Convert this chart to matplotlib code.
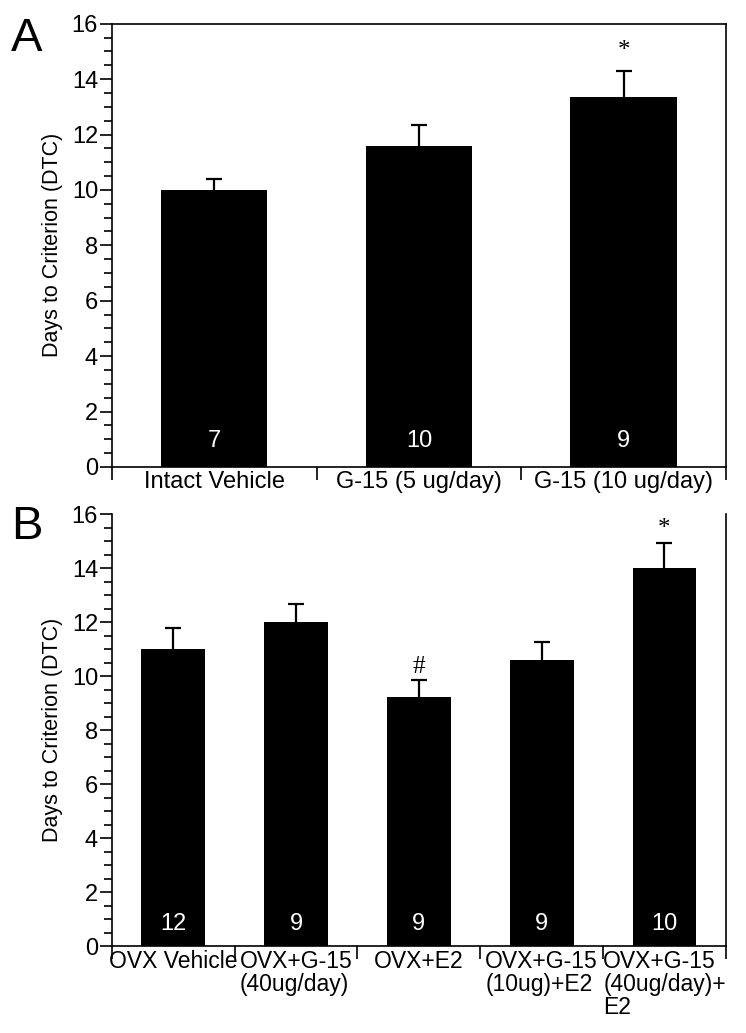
import numpy as np
import matplotlib.pyplot as plt
from matplotlib.ticker import MultipleLocator

# -----------------------------
# Data
# -----------------------------
cats_a = ["Intact Vehicle", "G-15 (5 ug/day)", "G-15 (10 ug/day)"]
mean_a = [10.0, 11.6, 13.35]
sem_a = [0.38, 0.76, 0.95]
n_a = ["7", "10", "9"]
mark_a = ["", "", "*"]

cats_b = ["OVX Vehicle", "OVX+G-15\n(40ug/day)", "OVX+E2",
          "OVX+G-15\n(10ug)+E2", "OVX+G-15\n(40ug/day)+\nE2"]
mean_b = [11.0, 12.0, 9.25, 10.6, 14.0]
sem_b = [0.78, 0.68, 0.6, 0.66, 0.96]
n_b = ["12", "9", "9", "9", "10"]
mark_b = ["", "", "#", "", "*"]

plt.rcParams["font.family"] = ["Liberation Sans", "DejaVu Sans"]
FS = 17

fig = plt.figure(figsize=(7.46, 10.33), dpi=100)
ax_a = fig.add_axes([0.150, 0.548, 0.823, 0.429])
ax_b = fig.add_axes([0.150, 0.084, 0.823, 0.418])


def draw_panel(ax, cats, mean, sem, ns, marks, top_spine, n_y, mark_gap,
               cat_fs):
    x = np.arange(len(cats))
    ax.bar(x, mean, width=0.52, color="black", zorder=2)
    eb = ax.errorbar(x, mean, yerr=[np.zeros(len(sem)), sem], fmt="none",
                     ecolor="black", elinewidth=1.6, capsize=6, capthick=1.6,
                     zorder=3)
    # only the upper cap is wanted
    for cap in eb[1]:
        if np.allclose(cap.get_ydata(), mean):
            cap.set_visible(False)
    for xi, n in zip(x, ns):
        ax.text(xi, n_y, n, color="white", ha="center", va="center",
                fontsize=FS, zorder=4)
    for xi, m, s, mk in zip(x, mean, sem, marks):
        if mk:
            ax.text(xi, m + s + mark_gap, mk, ha="center", va="center",
                    fontsize=18, family=["Liberation Serif"])

    ax.set_xlim(-0.5, len(cats) - 0.5)
    ax.set_ylim(0, 16)
    ax.yaxis.set_major_locator(MultipleLocator(2))
    ax.yaxis.set_minor_locator(MultipleLocator(0.5))
    ax.tick_params(axis="y", which="major", direction="out", length=9,
                   width=1.2, labelsize=FS, pad=1)
    ax.tick_params(axis="y", which="minor", direction="out", length=5.5,
                   width=1.2)
    ax.set_xticks(np.arange(len(cats) + 1) - 0.5)
    ax.set_xticklabels([])
    ax.tick_params(axis="x", which="major", direction="out", length=9,
                   width=1.2)
    ax.set_xticks(x, minor=True)
    ax.set_xticklabels(cats, minor=True, fontsize=cat_fs,
                       multialignment="left", linespacing=1.0)
    ax.tick_params(axis="x", which="minor", length=0, pad=3)
    ax.set_ylabel("Days to Criterion (DTC)", fontsize=15.5, labelpad=6)
    for side in ["left", "bottom", "right", "top"]:
        ax.spines[side].set_linewidth(1.2)
    ax.spines["top"].set_visible(top_spine)


draw_panel(ax_a, cats_a, mean_a, sem_a, n_a, mark_a, True, 0.95, 0.7, FS)
draw_panel(ax_b, cats_b, mean_b, sem_b, n_b, mark_b, False, 0.82, 0.5, 16.5)

fig.text(0.036, 0.962, "A", fontsize=34, ha="center", va="center")
fig.text(0.036, 0.490, "B", fontsize=34, ha="center", va="center")

fig.savefig("out.png", dpi=100)
